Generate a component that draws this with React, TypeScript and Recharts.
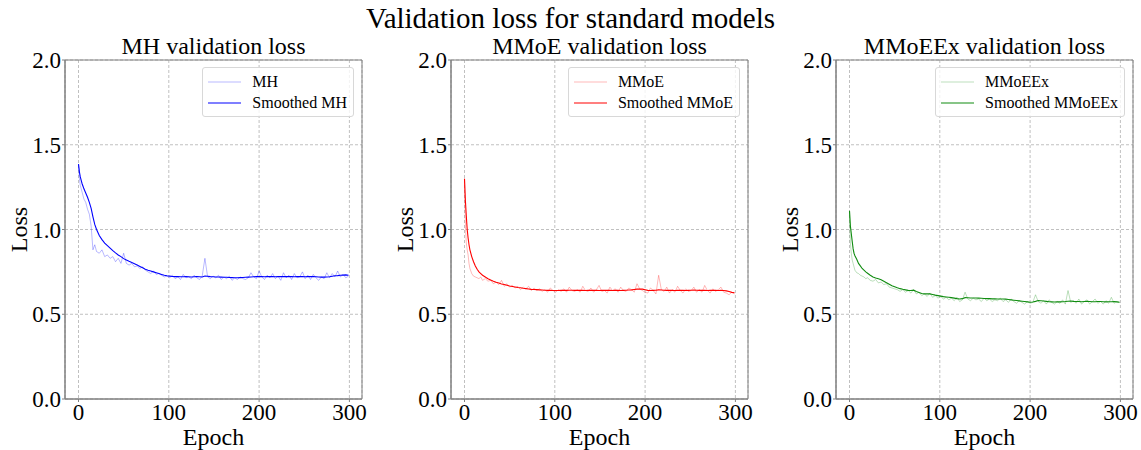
import { LineChart, Line, XAxis, YAxis, CartesianGrid, ReferenceArea, Label } from 'recharts'

const epochs = [
  0, 1, 2, 3, 4, 5, 6, 8, 10, 12, 14, 16, 18,
  20, 23, 26, 29, 32, 35, 38, 41, 44, 47,
  50, 53, 56, 59, 62, 65, 68, 71, 74, 77,
  80, 83, 86, 89, 92, 95, 98, 101, 104, 107,
  110, 113, 116, 119, 122, 125, 128, 131, 134, 137,
  140, 143, 146, 149, 152, 155, 158, 161, 164, 167,
  170, 173, 176, 179, 182, 185, 188, 191, 194, 197,
  200, 203, 206, 209, 212, 215, 218, 221, 224, 227,
  230, 233, 236, 239, 242, 245, 248, 251, 254, 257,
  260, 263, 266, 269, 272, 275, 278, 281, 284, 287,
  290, 293, 296, 299,
]

const mhRaw = [
  1.386, 1.3, 1.26, 1.24, 1.22, 1.2, 1.18, 1.16, 1.12, 1.09, 1.02, 0.88, 0.91,
  0.87, 0.86, 0.88, 0.84, 0.85, 0.83, 0.84, 0.81, 0.83, 0.8,
  0.86, 0.8, 0.79, 0.8, 0.78, 0.785, 0.77, 0.78, 0.76, 0.75,
  0.74, 0.755, 0.735, 0.74, 0.73, 0.72, 0.725, 0.715, 0.73, 0.71,
  0.72, 0.705, 0.735, 0.715, 0.72, 0.71, 0.73, 0.715, 0.705, 0.725,
  0.83, 0.72, 0.71, 0.725, 0.715, 0.73, 0.705, 0.72, 0.71, 0.725,
  0.7, 0.715, 0.705, 0.72, 0.71, 0.705, 0.715, 0.745, 0.72, 0.71,
  0.755, 0.72, 0.705, 0.73, 0.715, 0.74, 0.71, 0.725, 0.7, 0.745,
  0.715, 0.73, 0.705, 0.74, 0.715, 0.72, 0.75, 0.71, 0.73, 0.705,
  0.735, 0.715, 0.7, 0.72, 0.71, 0.745, 0.715, 0.74, 0.72, 0.755,
  0.72, 0.735, 0.715, 0.725,
]
const mhSmooth = [
  1.386, 1.34, 1.31, 1.29, 1.27, 1.255, 1.24, 1.215, 1.19, 1.16, 1.125, 1.075, 1.03,
  1.0, 0.965, 0.94, 0.92, 0.905, 0.89, 0.875, 0.862, 0.85, 0.84,
  0.828, 0.82, 0.812, 0.805, 0.798, 0.79, 0.782, 0.774, 0.766, 0.76,
  0.755, 0.75, 0.745, 0.74, 0.735, 0.73, 0.727, 0.725, 0.723, 0.722,
  0.722, 0.721, 0.721, 0.722, 0.721, 0.72, 0.721, 0.722, 0.721, 0.72,
  0.726, 0.724, 0.722, 0.721, 0.72, 0.72, 0.719, 0.718, 0.718, 0.717,
  0.716, 0.715, 0.715, 0.716, 0.717, 0.718, 0.719, 0.72, 0.721, 0.722,
  0.723, 0.722, 0.721, 0.722, 0.723, 0.722, 0.721, 0.722, 0.723, 0.722,
  0.722, 0.723, 0.722, 0.721, 0.722, 0.723, 0.722, 0.721, 0.722, 0.723,
  0.722, 0.721, 0.72, 0.719, 0.719, 0.72, 0.721, 0.724, 0.727, 0.728,
  0.73, 0.731, 0.732, 0.73,
]

const mmoeRaw = [
  1.3, 1.02, 0.92, 0.88, 0.85, 0.8, 0.77, 0.74, 0.725, 0.72, 0.715, 0.71, 0.72,
  0.7, 0.71, 0.695, 0.7, 0.68, 0.69, 0.675, 0.7, 0.665, 0.68,
  0.66, 0.67, 0.655, 0.665, 0.645, 0.66, 0.65, 0.665, 0.64, 0.655,
  0.64, 0.65, 0.635, 0.645, 0.63, 0.655, 0.64, 0.63, 0.645, 0.635,
  0.65, 0.63, 0.66, 0.64, 0.635, 0.645, 0.63, 0.665, 0.64, 0.635,
  0.655, 0.63, 0.645, 0.67, 0.635, 0.64, 0.625, 0.66, 0.64, 0.65,
  0.63, 0.66, 0.64, 0.635, 0.655, 0.645, 0.63, 0.68, 0.65, 0.64,
  0.63, 0.625, 0.655, 0.64, 0.62, 0.73, 0.645, 0.635, 0.66, 0.625,
  0.645, 0.63, 0.665, 0.64, 0.625, 0.65, 0.635, 0.64, 0.66, 0.63,
  0.645, 0.63, 0.67, 0.64, 0.625, 0.65, 0.635, 0.645, 0.66, 0.63,
  0.625, 0.615, 0.63, 0.62,
]
const mmoeSmooth = [
  1.3, 1.17, 1.08, 1.0, 0.95, 0.91, 0.88, 0.84, 0.81, 0.785, 0.765, 0.75, 0.74,
  0.73, 0.72, 0.71, 0.702, 0.695, 0.689, 0.684, 0.679, 0.675, 0.671,
  0.667, 0.664, 0.661, 0.658, 0.656, 0.653, 0.651, 0.649, 0.647, 0.646,
  0.645, 0.644, 0.643, 0.642, 0.641, 0.641, 0.64, 0.64, 0.64, 0.641,
  0.641, 0.641, 0.642, 0.642, 0.641, 0.641, 0.642, 0.641, 0.64, 0.641,
  0.641, 0.642, 0.641, 0.64, 0.641, 0.641, 0.642, 0.641, 0.64, 0.641,
  0.641, 0.64, 0.641, 0.642, 0.643, 0.644, 0.646, 0.648, 0.649, 0.648,
  0.645, 0.641, 0.64, 0.641, 0.642, 0.644, 0.643, 0.642, 0.641, 0.642,
  0.641, 0.64, 0.641, 0.642, 0.641, 0.64, 0.641, 0.642, 0.643, 0.642,
  0.641, 0.642, 0.641, 0.64, 0.641, 0.642, 0.641, 0.64, 0.641, 0.64,
  0.638, 0.634, 0.629, 0.627,
]

const mmoeexRaw = [
  1.11, 0.92, 0.86, 0.82, 0.8, 0.78, 0.76, 0.745, 0.74, 0.73, 0.725, 0.72, 0.71,
  0.715, 0.7, 0.695, 0.705, 0.685, 0.69, 0.675, 0.68, 0.66, 0.655,
  0.65, 0.645, 0.635, 0.645, 0.63, 0.64, 0.625, 0.645, 0.62, 0.63,
  0.61, 0.62, 0.605, 0.625, 0.6, 0.61, 0.595, 0.605, 0.59, 0.6,
  0.585, 0.595, 0.58, 0.6, 0.575, 0.585, 0.63, 0.59, 0.58, 0.595,
  0.585, 0.59, 0.575, 0.595, 0.58, 0.59, 0.575, 0.585, 0.58, 0.595,
  0.575, 0.585, 0.57, 0.59, 0.575, 0.565, 0.58, 0.57, 0.56, 0.575,
  0.565, 0.57, 0.615, 0.575, 0.565, 0.58, 0.56, 0.585, 0.57, 0.56,
  0.575, 0.565, 0.585, 0.56, 0.64, 0.57, 0.58, 0.565, 0.59, 0.56,
  0.575, 0.585, 0.56, 0.575, 0.59, 0.565, 0.575, 0.56, 0.58, 0.565,
  0.6, 0.565, 0.575, 0.57,
]
const mmoeexSmooth = [
  1.11, 1.02, 0.975, 0.93, 0.887, 0.86, 0.845, 0.825, 0.8, 0.785, 0.77, 0.76, 0.75,
  0.742, 0.73, 0.72, 0.714, 0.709, 0.704, 0.695, 0.686, 0.677, 0.668,
  0.662, 0.656, 0.651, 0.647, 0.644, 0.641, 0.64, 0.642, 0.634, 0.628,
  0.622, 0.62, 0.621, 0.62, 0.617, 0.613, 0.61, 0.607, 0.604, 0.602,
  0.6, 0.598, 0.595, 0.592, 0.59, 0.592, 0.598, 0.597, 0.596, 0.596,
  0.596, 0.595, 0.594, 0.593, 0.592, 0.592, 0.591, 0.591, 0.59, 0.59,
  0.59, 0.589, 0.587, 0.585, 0.583, 0.581, 0.579, 0.577, 0.575, 0.573,
  0.571, 0.572, 0.576, 0.581, 0.58, 0.578, 0.576, 0.574, 0.573, 0.572,
  0.573, 0.573, 0.574, 0.575, 0.577, 0.578, 0.576, 0.575, 0.575, 0.574,
  0.575, 0.576, 0.575, 0.574, 0.574, 0.575, 0.575, 0.574, 0.573, 0.574,
  0.574, 0.575, 0.573, 0.571,
]

const xTicks = [0, 100, 200, 300]
const yTicks = [0, 0.5, 1, 1.5, 2]

const FONT = '"Liberation Serif", "Times New Roman", serif'
const AXIS_GREY = '#808080'

const panels = [
  { name: 'MH', title: 'MH validation loss', color: '#0000ff', raw: mhRaw, smooth: mhSmooth, left: 0, width: 372 },
  { name: 'MMoE', title: 'MMoE validation loss', color: '#ff0000', raw: mmoeRaw, smooth: mmoeSmooth, left: 386, width: 372 },
  { name: 'MMoEEx', title: 'MMoEEx validation loss', color: '#108c10', raw: mmoeexRaw, smooth: mmoeexSmooth, left: 771, width: 367 },
]

const PLOT_LEFT = 65
const PLOT_WIDTH = 297
const RAW_OPACITY = 0.28

const LegendBox = ({ name, color }: { name: string; color: string }) => (
  <div
    style={{
      position: 'absolute',
      top: 67,
      right: 0,
      border: '1px solid #d8d8d8',
      borderRadius: 3,
      background: 'rgba(255,255,255,0.8)',
      padding: '3px 6px 3px 5px',
      fontFamily: FONT,
      fontSize: 16,
      color: '#000',
    }}
  >
    {[name, `Smoothed ${name}`].map((label, i) => (
      <div key={label} style={{ display: 'flex', alignItems: 'center', height: 21 }}>
        <svg width={33} height={4} style={{ marginRight: 11 }}>
          <line x1={0} x2={33} y1={2} y2={2} stroke={color} strokeOpacity={i === 0 ? RAW_OPACITY : 1} strokeWidth={1.2} />
        </svg>
        <span>{label}</span>
      </div>
    ))}
  </div>
)

const Panel = ({ p }: { p: (typeof panels)[number] }) => {
  const data = epochs.map((e, i) => ({ epoch: e, raw: p.raw[i], smooth: p.smooth[i] }))
  return (
    <div style={{ position: 'absolute', left: p.left, top: 0, width: p.width, height: 450 }}>
      <div
        style={{
          position: 'absolute',
          left: PLOT_LEFT,
          width: PLOT_WIDTH,
          top: 32,
          textAlign: 'center',
          fontFamily: FONT,
          fontSize: 24,
          lineHeight: '28px',
          color: '#000',
          whiteSpace: 'nowrap',
        }}
      >
        {p.title}
      </div>
      <LineChart width={p.width} height={450} data={data} margin={{ top: 60, right: p.width - PLOT_LEFT - PLOT_WIDTH, bottom: 0, left: 0 }}>
        <CartesianGrid stroke="#b0b0b0" strokeDasharray="3 2" strokeWidth={0.8} />
        <XAxis
          dataKey="epoch"
          type="number"
          domain={[-14.95, 313.95]}
          ticks={xTicks}
          allowDataOverflow
          height={51}
          tickSize={3}
          tickMargin={2}
          stroke={AXIS_GREY}
          tick={{ fill: '#000', fontFamily: FONT, fontSize: 23 }}
        >
          <Label
            content={({ viewBox }: any) => (
              <text
                x={viewBox.x + viewBox.width / 2}
                y={viewBox.y + 46}
                textAnchor="middle"
                fontFamily={FONT}
                fontSize={24}
                fill="#000"
              >
                Epoch
              </text>
            )}
          />
        </XAxis>
        <YAxis
          type="number"
          domain={[0, 2]}
          ticks={yTicks}
          width={65}
          tickSize={3}
          tickMargin={1}
          stroke={AXIS_GREY}
          tickFormatter={(v: number) => v.toFixed(1)}
          tick={{ fill: '#000', fontFamily: FONT, fontSize: 23 }}
        >
          <Label
            content={({ viewBox }: any) => {
              const cx = viewBox.x + 19
              const cy = viewBox.y + viewBox.height / 2
              return (
                <text
                  x={cx}
                  y={cy}
                  transform={`rotate(-90, ${cx}, ${cy})`}
                  textAnchor="middle"
                  dominantBaseline="central"
                  fontFamily={FONT}
                  fontSize={24}
                  fill="#000"
                >
                  Loss
                </text>
              )
            }}
          />
        </YAxis>
        <ReferenceArea x1={-14.95} x2={313.95} y1={0} y2={2} fill="none" stroke={AXIS_GREY} strokeWidth={1} ifOverflow="extendDomain" />
        <Line
          type="linear"
          dataKey="raw"
          stroke={p.color}
          strokeOpacity={RAW_OPACITY}
          strokeWidth={1}
          dot={false}
          isAnimationActive={false}
        />
        <Line
          type="linear"
          dataKey="smooth"
          stroke={p.color}
          strokeWidth={1.1}
          dot={false}
          isAnimationActive={false}
        />
      </LineChart>
      <div style={{ position: 'absolute', top: 0, left: 0, width: 354, height: 0 }}>
        <LegendBox name={p.name} color={p.color} />
      </div>
    </div>
  )
}

export default function App() {
  return (
    <div style={{ position: 'absolute', left: 0, top: 0, width: 1141, height: 450, background: '#fff' }}>
      <div
        style={{
          position: 'absolute',
          left: 0,
          width: 1141,
          top: 1,
          textAlign: 'center',
          fontFamily: FONT,
          fontSize: 29,
          lineHeight: '34px',
          color: '#000',
        }}
      >
        Validation loss for standard models
      </div>
      {panels.map((p) => (
        <Panel key={p.name} p={p} />
      ))}
    </div>
  )
}
